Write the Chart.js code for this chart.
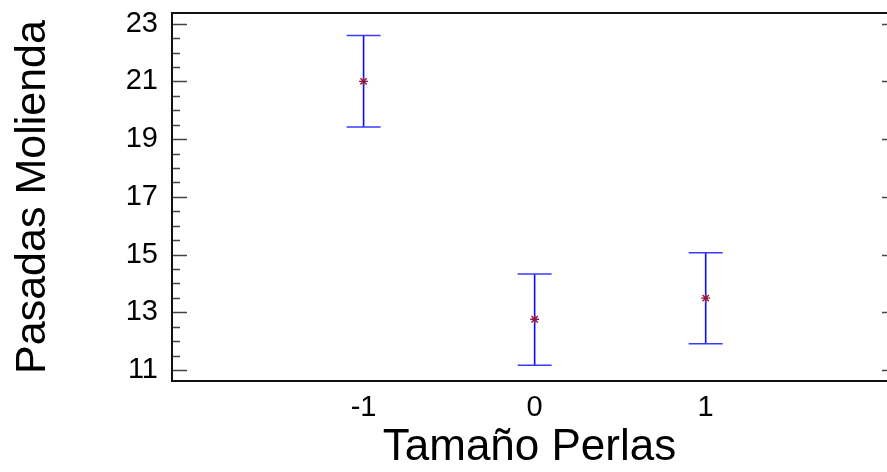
<!DOCTYPE html>
<html>
<head>
<meta charset="utf-8">
<script src="https://cdn.jsdelivr.net/npm/chart.js@4.4.0/dist/chart.umd.min.js"></script>
<style>
  html, body { margin: 0; padding: 0; background: #fff; overflow: hidden; }
  #wrap { width: 887px; height: 472px; }
</style>
</head>
<body>
<div id="wrap"><canvas id="chart" width="887" height="472"></canvas></div>
<script>
// Means with interval limits per level of "Tamaño Perlas"
const levels = [-1, 0, 1];
const means = [21.0, 12.76, 13.49];
const lower = [19.42, 11.17, 11.91];
const upper = [22.59, 14.33, 15.06];
const yTickLabels = [11, 13, 15, 17, 19, 21, 23];

const FONT = "'Liberation Sans', Arial, Helvetica, sans-serif";

// inward tick marks + frame, drawn from the scales
// (the plot's right border sits just past the canvas edge, so only the
//  tips of the right-hand major ticks show)
const framePlugin = {
  id: 'frame',
  afterDraw(chart) {
    const { ctx, chartArea: a, scales } = chart;
    const y = scales.y;
    ctx.save();
    ctx.strokeStyle = '#444';
    ctx.lineWidth = 1.5;
    y.ticks.forEach(t => {
      const py = Math.round(y.getPixelForValue(t.value)) + 0.5;
      const major = yTickLabels.includes(t.value);
      ctx.beginPath();
      ctx.moveTo(a.left, py);
      ctx.lineTo(a.left + (major ? 15 : 8), py);
      if (major) {
        ctx.moveTo(a.right, py);
        ctx.lineTo(a.right - 5, py);
      }
      ctx.stroke();
    });
    ctx.strokeStyle = '#111';
    ctx.lineWidth = 2;
    ctx.beginPath();
    ctx.moveTo(a.right + 5, a.top);
    ctx.lineTo(a.left, a.top);
    ctx.lineTo(a.left, a.bottom);
    ctx.lineTo(a.right + 5, a.bottom);
    ctx.stroke();
    ctx.restore();
  }
};

const barSets = levels.map((lv, i) => ({
  type: 'line',
  data: [{ x: lv, y: lower[i] }, { x: lv, y: upper[i] }],
  borderColor: '#0a0aff',
  borderWidth: 1.6,
  pointStyle: 'line',
  pointRadius: 17,
  pointBorderColor: '#3a3aff',
  pointBorderWidth: 1.5,
  fill: false,
  order: 2
}));

new Chart(document.getElementById('chart'), {
  type: 'scatter',
  data: {
    datasets: [{
      data: levels.map((lv, i) => ({ x: lv, y: means[i] })),
      pointStyle: 'star',
      pointRadius: 4.5,
      borderColor: '#8b1a4a',
      backgroundColor: '#8b1a4a',
      pointBorderWidth: 1.4,
      order: 1
    }].concat(barSets)
  },
  options: {
    responsive: false,
    animation: false,
    layout: { autoPadding: false, padding: { left: 0, top: 13, right: 0, bottom: 0 } },
    plugins: { legend: { display: false }, tooltip: { enabled: false } },
    scales: {
      x: {
        type: 'linear',
        min: -2.12,
        max: 2.06,
        grid: { display: false, drawTicks: false },
        border: { display: false },
        afterBuildTicks: s => { s.ticks = levels.map(v => ({ value: v })); },
        afterFit: s => { s.height = 91; s.paddingLeft = 0; s.paddingRight = 0; },
        ticks: {
          padding: 10,
          color: '#000',
          font: { family: FONT, size: 29 },
          callback: v => String(v)
        },
        title: {
          display: true,
          text: 'Tamaño Perlas',
          color: '#000',
          font: { family: FONT, size: 44, lineHeight: 1 },
          padding: { top: 0, bottom: 2 }
        }
      },
      y: {
        min: 10.62,
        max: 23.37,
        grid: { display: false, drawTicks: false },
        border: { display: false },
        afterFit: s => { s.width = 172; s.paddingTop = 0; s.paddingBottom = 0; },
        ticks: {
          stepSize: 0.5,
          includeBounds: false,
          autoSkip: false,
          padding: 14,
          color: '#000',
          font: { family: FONT, size: 29 },
          callback: v => yTickLabels.includes(v) ? String(v) : ''
        },
        title: {
          display: true,
          text: 'Pasadas Molienda',
          color: '#000',
          font: { family: FONT, size: 43, lineHeight: 1 },
          padding: { top: 12, bottom: 0 }
        }
      }
    }
  },
  plugins: [framePlugin]
});
</script>
</body>
</html>
